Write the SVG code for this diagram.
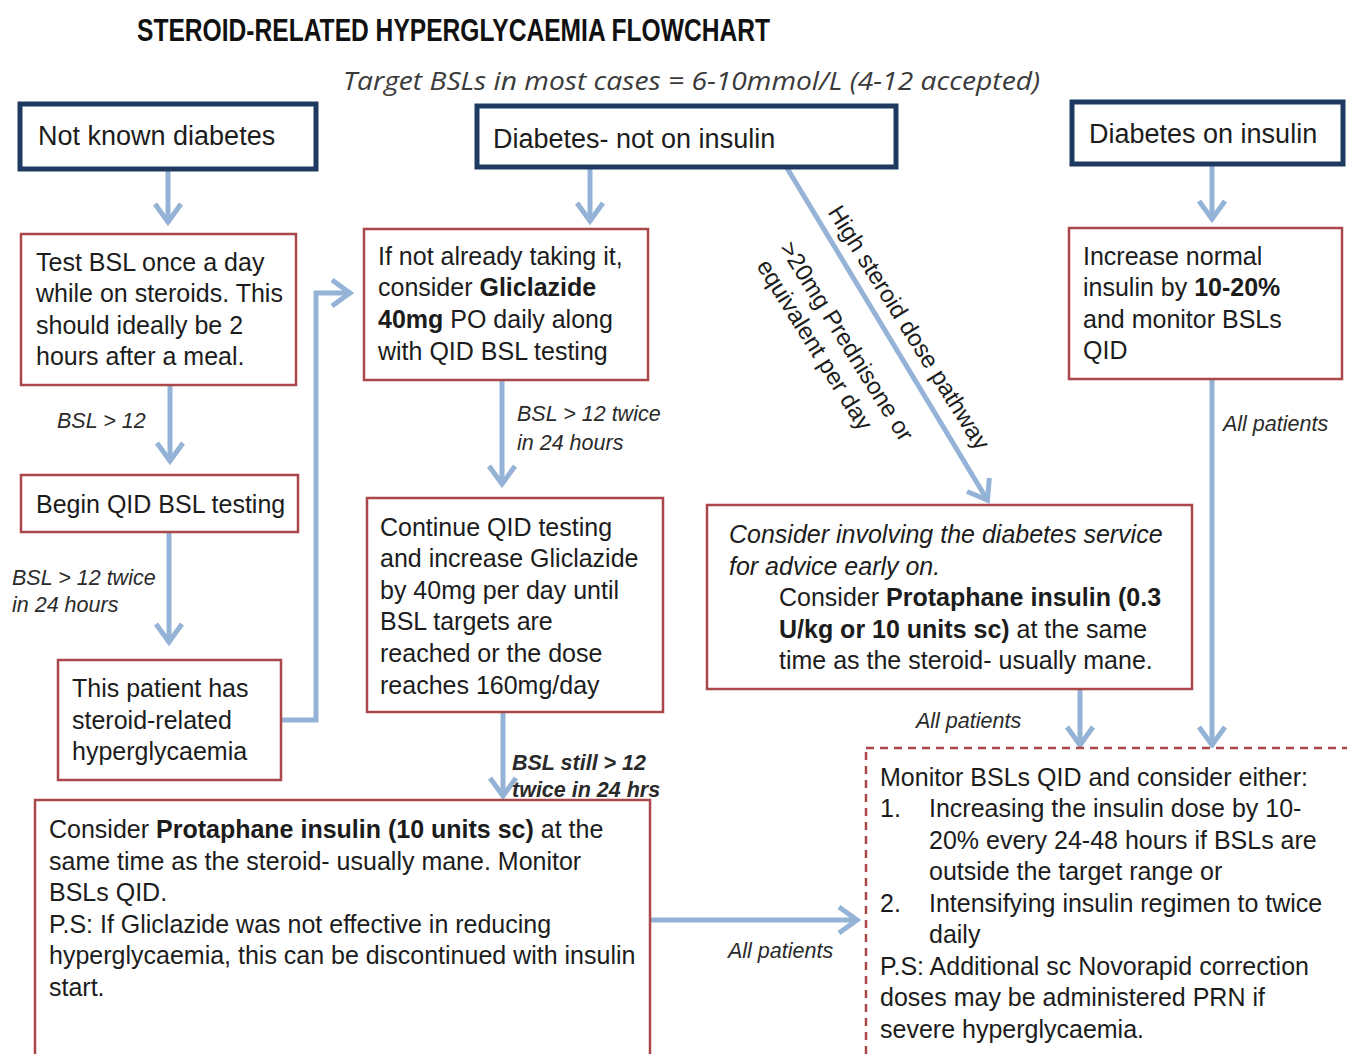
<svg xmlns="http://www.w3.org/2000/svg" width="1347" height="1054" viewBox="0 0 1347 1054">
<defs>
<marker id="ah" viewBox="0 0 30 32" refX="23" refY="16" markerWidth="30" markerHeight="32" orient="auto" markerUnits="userSpaceOnUse">
<path d="M4,3 L22,16 L4,29" fill="none" stroke="#95B3D7" stroke-width="5"/>
</marker>
<style>
.nb{fill:#fff;stroke:#1F3A60;stroke-width:5}
.rb{fill:#fff;stroke:#A9474A;stroke-width:2.5}
.db{fill:#fff;stroke:#A9474A;stroke-width:2.5;stroke-dasharray:8 6}
.t{font-family:"Liberation Sans",Arial,sans-serif;font-size:25px;fill:#1c1c1c}
.h{font-size:27px}
.i{font-style:italic}
.lb{font-family:"Liberation Sans",Arial,sans-serif;font-size:21.5px;font-style:italic;fill:#2a2a2a}
.rt{font-family:"Liberation Sans",Arial,sans-serif;font-size:24px;fill:#1c1c1c}
.b{font-weight:bold}
.c{fill:none;stroke:#95B3D7;stroke-width:5;marker-end:url(#ah)}
</style>
</defs>
<rect width="1347" height="1054" fill="#fff"/>
<text x="137" y="41" font-family="'Liberation Sans',Arial,sans-serif" font-weight="bold" font-size="31" fill="#111" textLength="633" lengthAdjust="spacingAndGlyphs">STEROID-RELATED HYPERGLYCAEMIA FLOWCHART</text>
<text x="343" y="90" font-family="'Open Sans',sans-serif" font-style="italic" font-size="26" fill="#3a3a3a" textLength="697" lengthAdjust="spacingAndGlyphs">Target BSLs in most cases = 6-10mmol/L (4-12 accepted)</text>

<g id="connectors">
<path class="c" d="M168,170 V223"/>
<path class="c" d="M590,168 V222"/>
<path class="c" d="M1212,165 V220"/>
<path class="c" d="M170,385 V462"/>
<path class="c" d="M169,532 V643"/>
<path class="c" d="M281,720 H316 V293 H351"/>
<path class="c" d="M502,380 V485"/>
<path class="c" d="M503,712 V797"/>
<path class="c" d="M787,168 L988,501"/>
<path class="c" d="M1080,689 V746"/>
<path class="c" d="M1212,379 V746"/>
<path class="c" d="M650,920 H858"/>
<text class="lb" x="57" y="428">BSL &gt; 12</text>
<text class="lb" x="12" y="585">BSL &gt; 12 twice</text>
<text class="lb" x="12" y="612">in 24 hours</text>
<text class="lb" x="517" y="421">BSL &gt; 12 twice</text>
<text class="lb" x="517" y="450">in 24 hours</text>
<text class="lb b" x="512" y="770">BSL still &gt; 12</text>
<text class="lb b" x="512" y="797">twice in 24 hrs</text>
<text class="lb" x="728" y="958">All patients</text>
<text class="lb" x="916" y="728">All patients</text>
<text class="lb" x="1223" y="431">All patients</text>
<g transform="translate(816,213) rotate(58)">
<text class="rt" x="5" y="-10">High steroid dose pathway</text>
<text class="rt" x="10" y="50">&gt;20mg Prednisone or</text>
<text class="rt" x="13" y="79">equivalent per day</text>
</g>
</g>

<g id="n1"><rect class="nb" x="20" y="104" width="296" height="65"/><text class="t h" x="38" y="145">Not known diabetes</text></g>
<g id="n2"><rect class="nb" x="477" y="106" width="419" height="61"/><text class="t h" x="493" y="148">Diabetes- not on insulin</text></g>
<g id="n3"><rect class="nb" x="1072" y="102" width="271" height="62"/><text class="t h" x="1089" y="143">Diabetes on insulin</text></g>

<g id="n4"><rect class="rb" x="21" y="234" width="275" height="151"/>
<text class="t"><tspan x="36" y="271">Test BSL once a day</tspan><tspan x="36" y="302">while on steroids. This</tspan><tspan x="36" y="334">should ideally be 2</tspan><tspan x="36" y="365">hours after a meal.</tspan></text></g>

<g id="n5"><rect class="rb" x="21" y="475" width="277" height="57"/><text class="t" x="36" y="513">Begin QID BSL testing</text></g>

<g id="n6"><rect class="rb" x="58" y="660" width="223" height="120"/>
<text class="t"><tspan x="72" y="697">This patient has</tspan><tspan x="72" y="729">steroid-related</tspan><tspan x="72" y="760">hyperglycaemia</tspan></text></g>

<g id="n7"><rect class="rb" x="364" y="229" width="284" height="151"/>
<text class="t"><tspan x="378" y="265">If not already taking it,</tspan><tspan x="378" y="296">consider <tspan class="b">Gliclazide</tspan></tspan><tspan x="378" y="328"><tspan class="b">40mg</tspan> PO daily along</tspan><tspan x="378" y="360">with QID BSL testing</tspan></text></g>

<g id="n8"><rect class="rb" x="367" y="498" width="296" height="214"/>
<text class="t"><tspan x="380" y="536">Continue QID testing</tspan><tspan x="380" y="567">and increase Gliclazide</tspan><tspan x="380" y="599">by 40mg per day until</tspan><tspan x="380" y="630">BSL targets are</tspan><tspan x="380" y="662">reached or the dose</tspan><tspan x="380" y="694">reaches 160mg/day</tspan></text></g>

<g id="n9"><rect class="rb" x="35" y="800" width="615" height="300"/>
<text class="t"><tspan x="49" y="838">Consider <tspan class="b">Protaphane insulin (10 units sc)</tspan> at the</tspan><tspan x="49" y="870">same time as the steroid- usually mane. Monitor</tspan><tspan x="49" y="901">BSLs QID.</tspan><tspan x="49" y="933">P.S: If Gliclazide was not effective in reducing</tspan><tspan x="49" y="964">hyperglycaemia, this can be discontinued with insulin</tspan><tspan x="49" y="996">start.</tspan></text></g>

<g id="n10"><rect class="rb" x="707" y="505" width="485" height="184"/>
<text class="t"><tspan class="i" x="729" y="543">Consider involving the diabetes service</tspan><tspan class="i" x="729" y="575">for advice early on.</tspan><tspan x="779" y="606">Consider <tspan class="b">Protaphane insulin (0.3</tspan></tspan><tspan x="779" y="638"><tspan class="b">U/kg or 10 units sc)</tspan> at the same</tspan><tspan x="779" y="669">time as the steroid- usually mane.</tspan></text></g>

<g id="n11"><rect class="rb" x="1069" y="228" width="273" height="151"/>
<text class="t"><tspan x="1083" y="265">Increase normal</tspan><tspan x="1083" y="296">insulin by <tspan class="b">10-20%</tspan></tspan><tspan x="1083" y="328">and monitor BSLs</tspan><tspan x="1083" y="359">QID</tspan></text></g>

<g id="n12"><rect class="db" x="866" y="748" width="600" height="400"/>
<text class="t"><tspan x="880" y="786">Monitor BSLs QID and consider either:</tspan><tspan x="880" y="817">1.</tspan><tspan x="929" y="817">Increasing the insulin dose by 10-</tspan><tspan x="929" y="849">20% every 24-48 hours if BSLs are</tspan><tspan x="929" y="880">outside the target range or</tspan><tspan x="880" y="912">2.</tspan><tspan x="929" y="912">Intensifying  insulin regimen to twice</tspan><tspan x="929" y="943">daily</tspan><tspan x="880" y="975">P.S: Additional sc Novorapid correction</tspan><tspan x="880" y="1006">doses may be administered PRN if</tspan><tspan x="880" y="1038">severe hyperglycaemia.</tspan></text></g>
</svg>
